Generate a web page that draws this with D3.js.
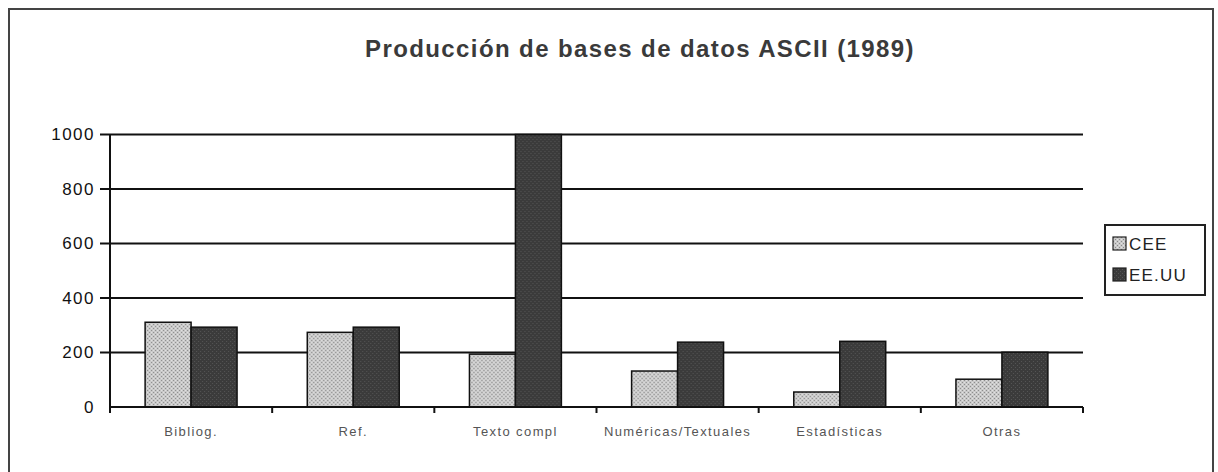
<!DOCTYPE html>
<html>
<head>
<meta charset="utf-8">
<script src="https://cdn.jsdelivr.net/npm/d3@7"></script>
<style>
  body { margin: 0; background: #fff; }
  svg { display: block; font-family: "Liberation Sans", Arial, sans-serif; }
</style>
</head>
<body>
<svg id="chart" width="1218" height="472"></svg>
<script>
// data
const categories = ["Bibliog.", "Ref.", "Texto compl", "Numéricas/Textuales", "Estadísticas", "Otras"];
const seriesNames = ["CEE", "EE.UU"];
const ceeValues = [311, 274, 194, 132, 55, 102];
const eeuuValues = [293, 293, 1000, 238, 241, 201];
const yTicks = [0, 200, 400, 600, 800, 1000];
const titleText = "Producción de bases de datos ASCII (1989)";

const svg = d3.select("#chart");

// textures for the two series
const defs = svg.append("defs");
let pCee = defs.append("pattern").attr("id", "pat-cee")
    .attr("patternUnits", "userSpaceOnUse").attr("width", 4).attr("height", 4);
pCee.append("rect").attr("width", 4).attr("height", 4).attr("fill", "#c9c9c9");
pCee.append("rect").attr("x", 0).attr("y", 0).attr("width", 1).attr("height", 1).attr("fill", "#8a8a8a");
pCee.append("rect").attr("x", 2).attr("y", 2).attr("width", 1).attr("height", 1).attr("fill", "#8a8a8a");
pCee.append("rect").attr("x", 2).attr("y", 0).attr("width", 1).attr("height", 1).attr("fill", "#e2e2e2");
pCee.append("rect").attr("x", 0).attr("y", 2).attr("width", 1).attr("height", 1).attr("fill", "#e2e2e2");

let pUs = defs.append("pattern").attr("id", "pat-us")
    .attr("patternUnits", "userSpaceOnUse").attr("width", 4).attr("height", 4);
pUs.append("rect").attr("width", 4).attr("height", 4).attr("fill", "#3b3b3b");
pUs.append("rect").attr("x", 1).attr("y", 1).attr("width", 1).attr("height", 1).attr("fill", "#555");
pUs.append("rect").attr("x", 3).attr("y", 3).attr("width", 1).attr("height", 1).attr("fill", "#555");

const fills = { "CEE": "url(#pat-cee)", "EE.UU": "url(#pat-us)" };

// outer frame (bottom edge is cut off in the scan)
svg.append("path")
    .attr("d", "M9,472 L9,9 L1213,9 L1213,472")
    .attr("fill", "none")
    .attr("stroke", "#444")
    .attr("stroke-width", 2);

// title
svg.append("text")
    .attr("x", 640).attr("y", 57)
    .attr("text-anchor", "middle")
    .attr("font-size", 24)
    .attr("font-weight", "bold")
    .attr("letter-spacing", 1.4)
    .attr("fill", "#3a3a3a")
    .text(titleText);

// scales
const x = d3.scaleBand()
    .domain(categories)
    .range([110, 1083])
    .paddingInner(0.433)
    .paddingOuter(0.2165);
const xs = d3.scaleBand()
    .domain(seriesNames)
    .range([0, x.bandwidth()]);
const y = d3.scaleLinear()
    .domain([0, 1000])
    .range([407, 134.5]);

// gridlines
svg.append("g")
    .selectAll("line")
    .data(yTicks.filter(d => d > 0))
    .join("line")
    .attr("x1", 100).attr("x2", 1083)
    .attr("y1", d => y(d)).attr("y2", d => y(d))
    .attr("stroke", "#111")
    .attr("stroke-width", 2);

// y axis labels
const yAxis = svg.append("g")
    .attr("transform", "translate(110,0)")
    .call(d3.axisLeft(y).tickValues(yTicks).tickFormat(d3.format("d")).tickSize(0).tickPadding(15));
yAxis.select(".domain").remove();
yAxis.selectAll("text")
    .attr("font-size", 17)
    .attr("letter-spacing", 1.5)
    .attr("fill", "#111")
    .attr("font-family", "Liberation Sans, Arial, sans-serif");

// bars
const rows = categories.map((c, i) => ({ cat: c, vals: [
    { s: "CEE", v: ceeValues[i] },
    { s: "EE.UU", v: eeuuValues[i] }
] }));

svg.append("g")
    .selectAll("g")
    .data(rows)
    .join("g")
    .attr("transform", d => `translate(${x(d.cat)},0)`)
    .selectAll("rect")
    .data(d => d.vals)
    .join("rect")
    .attr("x", d => xs(d.s))
    .attr("y", d => y(d.v))
    .attr("width", xs.bandwidth())
    .attr("height", d => y(0) - y(d.v))
    .attr("fill", d => fills[d.s])
    .attr("stroke", "#111")
    .attr("stroke-width", 1.5);

// x axis with category ticks at band edges
const edges = categories.map(c => x(c) - x.step() * x.paddingInner() / 2);
edges.push(1083);
svg.append("line")
    .attr("x1", 110).attr("x2", 1083)
    .attr("y1", y(0)).attr("y2", y(0))
    .attr("stroke", "#111").attr("stroke-width", 2);
svg.append("line")
    .attr("x1", 110).attr("x2", 110)
    .attr("y1", y(1000)).attr("y2", y(0) + 6)
    .attr("stroke", "#111").attr("stroke-width", 2);
svg.append("g")
    .selectAll("line")
    .data(edges)
    .join("line")
    .attr("x1", d => d).attr("x2", d => d)
    .attr("y1", y(0)).attr("y2", y(0) + 6)
    .attr("stroke", "#111").attr("stroke-width", 2);

svg.append("g")
    .selectAll("text")
    .data(categories)
    .join("text")
    .attr("x", d => x(d) + x.bandwidth() / 2)
    .attr("y", 436)
    .attr("text-anchor", "middle")
    .attr("font-size", 13)
    .attr("letter-spacing", 1.4)
    .attr("fill", "#555")
    .text(d => d);

// legend
const legend = svg.append("g").attr("transform", "translate(1105,225)");
legend.append("rect")
    .attr("width", 100).attr("height", 70)
    .attr("fill", "#fff")
    .attr("stroke", "#222").attr("stroke-width", 2);
const items = legend.selectAll("g.item")
    .data(seriesNames)
    .join("g")
    .attr("class", "item")
    .attr("transform", (d, i) => `translate(8,${12 + i * 31})`);
items.append("rect")
    .attr("width", 13).attr("height", 13)
    .attr("fill", d => fills[d])
    .attr("stroke", "#222").attr("stroke-width", 1.2);
items.append("text")
    .attr("x", 16).attr("y", 13)
    .attr("font-size", 17)
    .attr("letter-spacing", 1.2)
    .attr("fill", "#222")
    .text(d => d);
</script>
</body>
</html>
